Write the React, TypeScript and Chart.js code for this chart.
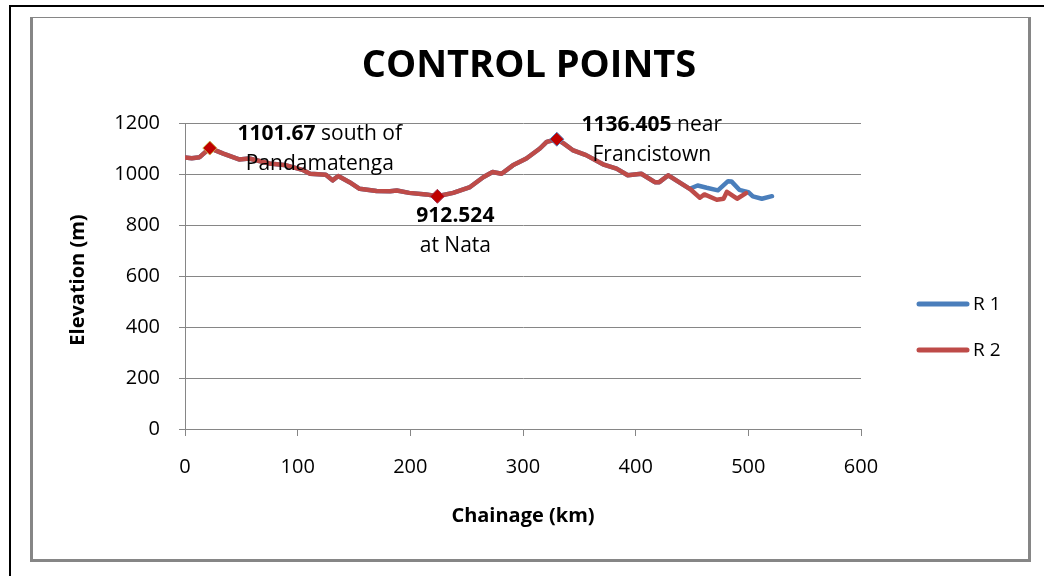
import React, { useEffect, useRef } from "react";
import { Chart, registerables } from "chart.js";

Chart.register(...registerables);

// ---- data ----
const sharedChainage = [0, 6, 13, 22, 34, 48, 57, 75, 90, 105, 111, 125, 131, 136, 146, 155, 170, 182, 188, 199, 214, 224, 238, 253, 265, 273, 281, 291, 303, 315, 321, 330, 336, 344, 356, 371, 383, 393, 405, 417, 421, 429, 436, 448];
const sharedElevation = [1065, 1062, 1066, 1101.67, 1080, 1057, 1061, 1041, 1034, 1015, 1001, 997, 975, 992, 968, 942, 933, 932, 935, 926, 920, 912.524, 926, 949, 988, 1008, 1001, 1034, 1061, 1100, 1126, 1136.405, 1120, 1094, 1074, 1038, 1021, 995, 1001, 968, 968, 995, 975, 942];
const r1TailChainage = [455, 463, 473, 482, 485, 492, 500, 504, 512, 521];
const r1TailElevation = [955, 946, 936, 972, 971, 938, 929, 912, 903, 913];
const r2TailChainage = [457, 461, 472, 478, 481, 490, 498];
const r2TailElevation = [907, 920, 899, 903, 930, 903, 925];
const controlChainage = [22, 224, 330];
const controlElevation = [1101.67, 912.524, 1136.405];
const controlValueText = ["1101.67", "912.524", "1136.405"];
const controlSuffixText = [" south of", "", " near"];
const controlPlaceText = ["Pandamatenga", "at Nata", "Francistown"];
const seriesNames = ["R 1", "R 2"];
const chartTitle = "CONTROL POINTS";
const xAxisTitle = "Chainage (km)";
const yAxisTitle = "Elevation (m)";

// ---- styles ----
const BLUE = "#4A7EBB";
const RED = "#BE4B48";
const GRID = "#868686";
const FONT = "'Open Sans', sans-serif";
const labelOffsets = [
  [110, 1],
  [18, 35],
  [95, 1],
];
const markerBorders = ["#C8B04A", "#A03050", "#4F81BD"];

function toPoints(xs: number[], ys: number[]) {
  return xs.map((x, i) => ({ x, y: ys[i] }));
}

const textPlugin = {
  id: "textPlugin",
  afterDraw(chart: any) {
    const ctx = chart.ctx as CanvasRenderingContext2D;
    const xs = chart.scales.x;
    const ys = chart.scales.y;
    ctx.save();
    ctx.fillStyle = "#000";
    ctx.textBaseline = "middle";

    // title
    ctx.font = `bold 38px ${FONT}`;
    ctx.textAlign = "center";
    ctx.fillText(chartTitle, 529, 66);

    // axis titles
    ctx.font = `bold 20px ${FONT}`;
    ctx.fillText(xAxisTitle, 523, 516);
    ctx.save();
    ctx.translate(78, 280);
    ctx.rotate(-Math.PI / 2);
    ctx.fillText(yAxisTitle, 0, 0);
    ctx.restore();

    // data labels
    for (let i = 0; i < controlChainage.length; i++) {
      const px = xs.getPixelForValue(controlChainage[i]);
      const py = ys.getPixelForValue(controlElevation[i]);
      const cx = px + labelOffsets[i][0];
      const cy = py + labelOffsets[i][1];
      const boldFont = `bold 21px ${FONT}`;
      const normFont = `21px ${FONT}`;
      ctx.font = boldFont;
      const w1 = ctx.measureText(controlValueText[i]).width;
      ctx.font = normFont;
      const w2 = ctx.measureText(controlSuffixText[i]).width;
      const start = cx - (w1 + w2) / 2;
      ctx.textAlign = "left";
      ctx.font = boldFont;
      ctx.fillText(controlValueText[i], start, cy - 15);
      ctx.font = normFont;
      ctx.fillText(controlSuffixText[i], start + w1, cy - 15);
      ctx.textAlign = "center";
      ctx.fillText(controlPlaceText[i], cx, cy + 15);
    }

    // legend
    const colors = [BLUE, RED];
    const ly = [304, 350];
    ctx.font = `19px ${FONT}`;
    ctx.textAlign = "left";
    for (let i = 0; i < seriesNames.length; i++) {
      ctx.strokeStyle = colors[i];
      ctx.lineWidth = 5;
      ctx.lineCap = "round";
      ctx.beginPath();
      ctx.moveTo(919, ly[i]);
      ctx.lineTo(967, ly[i]);
      ctx.stroke();
      ctx.fillStyle = "#000";
      ctx.fillText(seriesNames[i], 973, ly[i] + 1);
    }
    ctx.restore();
  },
};

export default function App() {
  const ref = useRef<HTMLCanvasElement>(null);

  useEffect(() => {
    if (!ref.current) return;
    const chart = new Chart(ref.current, {
      type: "line",
      data: {
        datasets: [
          {
            type: "scatter",
            label: "Control points",
            data: toPoints(controlChainage, controlElevation),
            pointStyle: "rectRot",
            pointRadius: 7,
            backgroundColor: "#C00000",
            borderColor: markerBorders,
            borderWidth: 1,
            showLine: false,
            order: 0,
          } as any,
          {
            label: seriesNames[1],
            data: toPoints(sharedChainage.concat(r2TailChainage), sharedElevation.concat(r2TailElevation)),
            borderColor: RED,
            borderWidth: 4.5,
            pointRadius: 0,
            tension: 0,
            borderCapStyle: "round",
            borderJoinStyle: "round",
            order: 1,
          },
          {
            label: seriesNames[0],
            data: toPoints(sharedChainage.concat(r1TailChainage), sharedElevation.concat(r1TailElevation)),
            borderColor: BLUE,
            borderWidth: 4.5,
            pointRadius: 0,
            tension: 0,
            borderCapStyle: "round",
            borderJoinStyle: "round",
            order: 2,
          },
        ],
      },
      options: {
        animation: false,
        responsive: false,
        layout: { padding: { left: 0, top: 123, right: 183, bottom: 0 } },
        plugins: {
          legend: { display: false },
          title: { display: false },
          tooltip: { enabled: false },
        },
        scales: {
          x: {
            type: "linear",
            min: 0,
            max: 600,
            afterFit: (s: any) => {
              s.height = 147;
            },
            ticks: {
              stepSize: 100,
              color: "#000",
              font: { family: FONT, size: 20 },
              padding: 19,
              maxRotation: 0,
              callback: (v: any) => String(v),
            },
            grid: {
              drawOnChartArea: false,
              drawTicks: true,
              tickLength: 7,
              color: GRID,
            },
            border: { display: true, color: GRID, width: 1 },
          },
          y: {
            type: "linear",
            min: 0,
            max: 1200,
            afterFit: (s: any) => {
              s.width = 185;
            },
            ticks: {
              stepSize: 200,
              color: "#000",
              font: { family: FONT, size: 20 },
              padding: 19,
              callback: (v: any) => String(v),
            },
            grid: {
              drawOnChartArea: true,
              drawTicks: true,
              tickLength: 6,
              color: GRID,
            },
            border: { display: true, color: GRID, width: 1 },
          },
        },
      },
      plugins: [textPlugin],
    });
    return () => chart.destroy();
  }, []);

  return (
    <div
      style={{
        position: "fixed",
        left: 0,
        top: 0,
        width: 1044,
        height: 576,
        overflow: "hidden",
        background: "#fff",
      }}
    >
      <div
        style={{
          position: "absolute",
          left: 9,
          top: 5,
          width: 1200,
          height: 800,
          border: "2px solid #000",
          boxSizing: "border-box",
        }}
      />
      <div
        style={{
          position: "absolute",
          left: 30,
          top: 17,
          width: 1001,
          height: 545,
          borderTop: `1px solid ${GRID}`,
          borderLeft: `3px solid ${GRID}`,
          borderRight: `3px solid ${GRID}`,
          borderBottom: `3px solid ${GRID}`,
          boxSizing: "border-box",
        }}
      />
      <canvas
        ref={ref}
        width={1044}
        height={576}
        style={{ position: "absolute", left: 0, top: 0, width: 1044, height: 576 }}
      />
    </div>
  );
}
